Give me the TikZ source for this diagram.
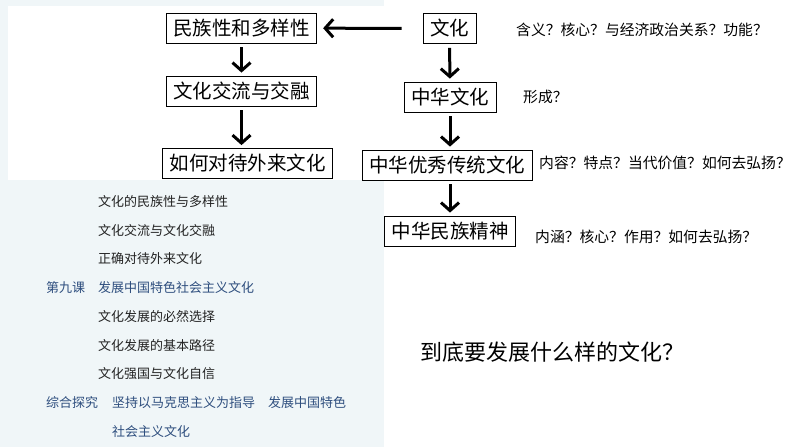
\documentclass[tikz,border=0pt]{standalone}
\usepackage{fontspec}
\setmainfont{Noto Sans CJK SC}
\usetikzlibrary{arrows.meta}
\definecolor{pagebg}{HTML}{F0F6F8}
\definecolor{tocblue}{HTML}{2E4E7E}
\definecolor{toctext}{HTML}{222222}

\begin{document}
\begin{tikzpicture}[x=1pt,y=-1pt,
  box/.style={draw, line width=0.8pt, inner xsep=7pt, inner ysep=0pt, minimum height=30pt, font=\fontsize{19.5}{20}\selectfont},
  ask/.style={anchor=west, inner sep=0pt, font=\fontsize{14.8}{16}\selectfont},
  toc/.style={anchor=west, inner sep=0pt, text=toctext, font=\fontsize{13}{15}\selectfont},
  tochead/.style={toc, text=tocblue},
  down/.style={line width=3pt, -{Straight Barb[length=8pt,width=18pt]}}]
\useasboundingbox (0,0) rectangle (794,447);

% Scanned page behind
\fill[pagebg] (0,0) rectangle (384,447);
\fill[white] (8,6) rectangle (384,180);

% Left column
\node[box] (minzu) at (241.5,28) {民族性和多样性};
\node[box] (jiaoliu) at (241.5,91) {文化交流与交融};
\node[box] (wailai) at (247.5,163.5) {如何对待外来文化};

% Right column
\node[box] (wenhua) at (449.5,28.5) {文化};
\node[box] (zhonghua) at (450,97) {中华文化};
\node[box] (youxiu) at (447,165) {中华优秀传统文化};
\node[box] (jingshen) at (450,231) {中华民族精神};

% Arrows
\draw[down, shorten <=21pt, shorten >=6pt] (wenhua) -- (minzu);
\draw[down, shorten <=4pt, shorten >=3pt] (minzu) -- (jiaoliu);
\draw[down, shorten <=4pt, shorten >=3pt] (jiaoliu.south) -- (jiaoliu.south |- wailai.north);
\draw[down, shorten <=4pt, shorten >=3pt] (wenhua) -- (zhonghua);
\draw[down, shorten <=4pt, shorten >=3pt] (zhonghua.south) -- (zhonghua.south |- youxiu.north);
\draw[down, shorten <=4pt, shorten >=3pt] (youxiu.south -| jingshen.north) -- (jingshen.north);

% Questions
\node[ask] (q1) at (516,30) {含义？核心？与经济政治关系？功能？};
\node[ask] (q2) at (523,97) {形成？};
\node[ask] (q3) at (539,163) {内容？特点？当代价值？如何去弘扬？};
\node[ask] (q4) at (535,237) {内涵？核心？作用？如何去弘扬？};
\node[anchor=west, inner sep=0pt, font=\fontsize{22}{24}\selectfont] (big) at (420,352) {到底要发展什么样的文化？};

% Contents page
\node[toc] (t1) at (98,202) {文化的民族性与多样性};
\node[toc] (t2) at (98,231) {文化交流与文化交融};
\node[toc] (t3) at (98,259) {正确对待外来文化};
\node[tochead] (k9) at (46,288) {第九课};
\node[tochead] (t4) at (98,288) {发展中国特色社会主义文化};
\node[toc] (t5) at (98,317) {文化发展的必然选择};
\node[toc] (t6) at (98,346) {文化发展的基本路径};
\node[toc] (t7) at (98,374) {文化强国与文化自信};
\node[tochead] (zh) at (46,403) {综合探究};
\node[tochead] (t8) at (112,403) {坚持以马克思主义为指导\hspace{13pt}发展中国特色};
\node[tochead] (t9) at (112,432) {社会主义文化};
\end{tikzpicture}
\end{document}
